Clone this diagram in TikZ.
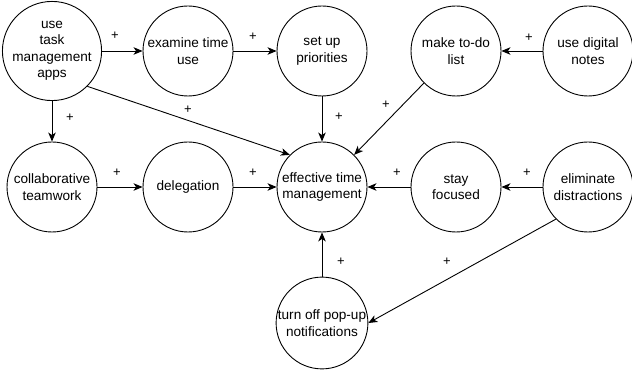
\documentclass[tikz,border=0pt]{standalone}
\usepackage{fontspec}
\setmainfont{Liberation Sans}
\usetikzlibrary{arrows.meta}
\begin{document}
\begin{tikzpicture}[x=1pt,y=-1pt,
  circ/.style={circle,draw,line width=0.9pt,minimum size=90pt,inner sep=0pt,align=center,font=\fontsize{13.6}{16.5}\selectfont},
  conn/.style={line width=0.9pt,-{Stealth[length=9pt,width=7.5pt,inset=2.5pt]}},
  plus/.style={font=\fontsize{13}{15}\selectfont,inner sep=0pt}]
\useasboundingbox (0,0) rectangle (632,371);
\node[circ] (apps) at (52,51) {use\\task\\management\\apps};
\node[circ] (exam) at (188,51) {examine time\\use};
\node[circ] (prio) at (322,51) {set up\\priorities};
\node[circ] (todo) at (456,51) {make to-do\\list};
\node[circ] (notes) at (588,51) {use digital\\notes};
\node[circ] (collab) at (52,187) {collaborative\\teamwork};
\node[circ] (deleg) at (188,187) {delegation};
\node[circ] (eff) at (322,187) {effective time\\management};
\node[circ] (stay) at (456,187) {stay\\focused};
\node[circ] (elim) at (588,187) {eliminate\\distractions};
\node[circ] (pop) at (322,323) {turn off pop-up\\notifications};
\draw[conn] (apps) -- (exam);
\draw[conn] (exam) -- (prio);
\draw[conn] (apps) -- (collab);
\draw[conn] (apps.-45) -- (eff.135);
\draw[conn] (collab) -- (deleg);
\draw[conn] (deleg) -- (eff);
\draw[conn] (prio) -- (eff);
\draw[conn] (todo.225) -- (eff.45);
\draw[conn] (notes) -- (todo);
\draw[conn] (stay) -- (eff);
\draw[conn] (elim) -- (stay);
\draw[conn] (pop) -- (eff);
\draw[conn] (elim.225) -- (pop.0);
\node[plus] (p1) at (115,36) {+};
\node[plus] (p2) at (253,37) {+};
\node[plus] (p3) at (70,118) {+};
\node[plus] (p4) at (188,110) {+};
\node[plus] (p5) at (117,173) {+};
\node[plus] (p6) at (253,173) {+};
\node[plus] (p7) at (339,117) {+};
\node[plus] (p8) at (386,105) {+};
\node[plus] (p9) at (529,38) {+};
\node[plus] (p10) at (397,173) {+};
\node[plus] (p11) at (527,173) {+};
\node[plus] (p12) at (341,262) {+};
\node[plus] (p13) at (447,262) {+};
\end{tikzpicture}
\end{document}
